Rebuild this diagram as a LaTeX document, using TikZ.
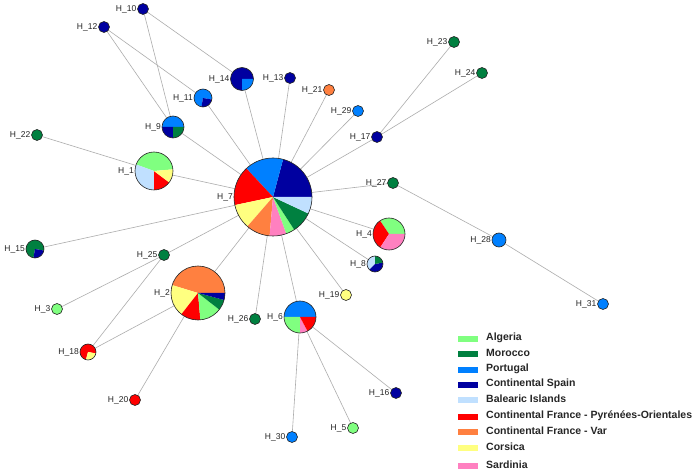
\documentclass[tikz,border=0pt]{standalone}
\usepackage{fontspec}
\setmainfont{Liberation Sans}
\definecolor{cAlg}{RGB}{128,255,128}
\definecolor{cMor}{RGB}{0,128,64}
\definecolor{cPor}{RGB}{0,128,255}
\definecolor{cSpa}{RGB}{0,0,160}
\definecolor{cBal}{RGB}{192,224,255}
\definecolor{cPyr}{RGB}{255,0,0}
\definecolor{cVar}{RGB}{255,128,64}
\definecolor{cCor}{RGB}{255,255,128}
\definecolor{cSar}{RGB}{255,128,192}
\pgfdeclarelayer{bg}
\pgfsetlayers{bg,main}
\tikzset{
 hap/.style={circle, inner sep=0pt, outer sep=0pt, minimum size=#1},
 lab/.style={font=\fontsize{8.5}{10}\selectfont, text=black!85, inner sep=1pt},
 edge/.style={draw=black!32, line width=0.6pt},
 rim/.style={draw=black!85, line width=0.6pt},
 legtext/.style={font=\bfseries\fontsize{10.5}{12}\selectfont, anchor=west, inner sep=0pt, text=black!85},
 legbox/.style={minimum width=20pt, minimum height=6.5pt, inner sep=0pt, anchor=west},
}
\newcommand\pieslices[3]{%
 \foreach \sa/\ea/\col in {#3}{\fill[\col] (#1.center) -- ++(\sa:#2) arc[start angle=\sa, end angle=\ea, radius=#2] -- cycle;}%
 \draw[rim] (#1.center) circle[radius=#2];}
\begin{document}
\begin{tikzpicture}[x=1pt,y=-1pt]
\useasboundingbox (0,0) rectangle (697,473);
% pie nodes
\node[hap=78pt, label={[lab]left:H\_7}] (H7) at (273,197) {};
\node[hap=38pt, label={[lab]left:H\_1}] (H1) at (154,171) {};
\node[hap=54pt, label={[lab]left:H\_2}] (H2) at (198,293) {};
\node[hap=32pt, label={[lab]left:H\_4}] (H4) at (389,234) {};
\node[hap=32pt, label={[lab]left:H\_6}] (H6) at (300,317) {};
\node[hap=22pt, label={[lab]left:H\_9}] (H9) at (173,127) {};
\node[hap=23pt, label={[lab]left:H\_14}] (H14) at (242,79) {};
\node[hap=18pt, label={[lab]left:H\_11}] (H11) at (203,98) {};
\node[hap=18pt, label={[lab]left:H\_15}] (H15) at (35,249) {};
\node[hap=16pt, label={[lab]left:H\_8}] (H8) at (375,264) {};
\node[hap=16pt, label={[lab]left:H\_18}] (H18) at (88,352) {};
% single-colour nodes
\node[hap=11pt, rim, fill=cSpa, label={[lab]left:H\_10}] (H10) at (143,9) {};
\node[hap=11pt, rim, fill=cSpa, label={[lab]left:H\_12}] (H12) at (104,27) {};
\node[hap=11pt, rim, fill=cSpa, label={[lab]left:H\_13}] (H13) at (290,78) {};
\node[hap=11pt, rim, fill=cVar, label={[lab]left:H\_21}] (H21) at (329,90) {};
\node[hap=11pt, rim, fill=cMor, label={[lab]left:H\_22}] (H22) at (37,135) {};
\node[hap=11pt, rim, fill=cPor, label={[lab]left:H\_29}] (H29) at (358,111) {};
\node[hap=11pt, rim, fill=cMor, label={[lab]left:H\_23}] (H23) at (454,42) {};
\node[hap=11pt, rim, fill=cMor, label={[lab]left:H\_24}] (H24) at (482,73) {};
\node[hap=11pt, rim, fill=cSpa, label={[lab]left:H\_17}] (H17) at (377,137) {};
\node[hap=11pt, rim, fill=cMor, label={[lab]left:H\_27}] (H27) at (393,183) {};
\node[hap=14pt, rim, fill=cPor, label={[lab]left:H\_28}] (H28) at (499,240) {};
\node[hap=11pt, rim, fill=cPor, label={[lab]left:H\_31}] (H31) at (603,304) {};
\node[hap=11pt, rim, fill=cCor, label={[lab]left:H\_19}] (H19) at (346,295) {};
\node[hap=11pt, rim, fill=cMor, label={[lab]left:H\_26}] (H26) at (255,319) {};
\node[hap=11pt, rim, fill=cMor, label={[lab]left:H\_25}] (H25) at (164,255) {};
\node[hap=11pt, rim, fill=cAlg, label={[lab]left:H\_3}] (H3) at (57,309) {};
\node[hap=11pt, rim, fill=cPyr, label={[lab]left:H\_20}] (H20) at (135,400) {};
\node[hap=11pt, rim, fill=cSpa, label={[lab]left:H\_16}] (H16) at (396,393) {};
\node[hap=11pt, rim, fill=cAlg, label={[lab]left:H\_5}] (H5) at (353,428) {};
\node[hap=11pt, rim, fill=cPor, label={[lab]left:H\_30}] (H30) at (292,437) {};
% connectors
\begin{pgfonlayer}{bg}
\fill[white] (0,0) rectangle (697,473);
\draw[edge] (H10) -- (H9);
\draw[edge] (H10) -- (H14);
\draw[edge] (H12) -- (H9);
\draw[edge] (H12) -- (H11);
\draw[edge] (H14) -- (H7);
\draw[edge] (H11) -- (H7);
\draw[edge] (H9) -- (H7);
\draw[edge] (H13) -- (H7);
\draw[edge] (H21) -- (H7);
\draw[edge] (H29) -- (H7);
\draw[edge] (H17) -- (H7);
\draw[edge] (H23) -- (H17);
\draw[edge] (H24) -- (H17);
\draw[edge] (H27) -- (H7);
\draw[edge] (H27) -- (H28);
\draw[edge] (H28) -- (H31);
\draw[edge] (H4) -- (H7);
\draw[edge] (H8) -- (H7);
\draw[edge] (H19) -- (H7);
\draw[edge] (H6) -- (H7);
\draw[edge] (H6) -- (H16);
\draw[edge] (H6) -- (H5);
\draw[edge] (H6) -- (H30);
\draw[edge] (H26) -- (H7);
\draw[edge] (H2) -- (H7);
\draw[edge] (H25) -- (H7);
\draw[edge] (H3) -- (H25);
\draw[edge] (H18) -- (H25);
\draw[edge] (H18) -- (H2);
\draw[edge] (H20) -- (H2);
\draw[edge] (H15) -- (H7);
\draw[edge] (H22) -- (H1);
\draw[edge] (H1) -- (H7);
\end{pgfonlayer}
% pies
\pieslices{H7}{39pt}{0/75/cSpa, 75/133/cPor, 133/192/cPyr, 192/229/cCor, 229/265/cVar, 265/290/cSar, 290/303/cAlg, 303/335/cMor, 335/360/cBal}
\pieslices{H1}{19pt}{5/160/cAlg, 160/270/cBal, 270/323/cPyr, 323/365/cCor}
\pieslices{H2}{27pt}{0/163/cVar, 163/232/cCor, 232/275/cPyr, 275/322/cAlg, 322/345/cMor, 345/360/cSpa}
\pieslices{H4}{16pt}{0/124/cAlg, 124/237/cPyr, 237/360/cSar}
\pieslices{H6}{16pt}{0/180/cPor, 180/270/cAlg, 270/298/cSar, 298/360/cPyr}
\pieslices{H9}{11pt}{0/180/cPor, 180/270/cSpa, 270/360/cMor}
\pieslices{H14}{11.5pt}{0/270/cSpa, 270/360/cPor}
\pieslices{H11}{9pt}{-10/260/cPor, 260/350/cSpa}
\pieslices{H15}{9pt}{-10/260/cMor, 260/350/cSpa}
\pieslices{H8}{8pt}{90/225/cBal, 225/370/cSpa, 10/90/cMor}
\pieslices{H18}{8pt}{-10/255/cPyr, 255/350/cCor}
% legend
\node[legbox, fill=cAlg] (b1) at (458,339) {};
\node[legtext] (t1) at (486,338) {Algeria};
\node[legbox, fill=cMor] (b2) at (458,354) {};
\node[legtext] (t2) at (486,353) {Morocco};
\node[legbox, fill=cPor] (b3) at (458,370) {};
\node[legtext] (t3) at (486,369) {Portugal};
\node[legbox, fill=cSpa] (b4) at (458,385) {};
\node[legtext] (t4) at (486,384) {Continental Spain};
\node[legbox, fill=cBal] (b5) at (458,400) {};
\node[legtext] (t5) at (486,399) {Balearic Islands};
\node[legbox, fill=cPyr] (b6) at (458,417) {};
\node[legtext] (t6) at (486,416) {Continental France - Pyrénées-Orientales};
\node[legbox, fill=cVar] (b7) at (458,432) {};
\node[legtext] (t7) at (486,431) {Continental France - Var};
\node[legbox, fill=cCor] (b8) at (458,448) {};
\node[legtext] (t8) at (486,447) {Corsica};
\node[legbox, fill=cSar] (b9) at (458,466) {};
\node[legtext] (t9) at (486,465) {Sardinia};
\end{tikzpicture}
\end{document}
